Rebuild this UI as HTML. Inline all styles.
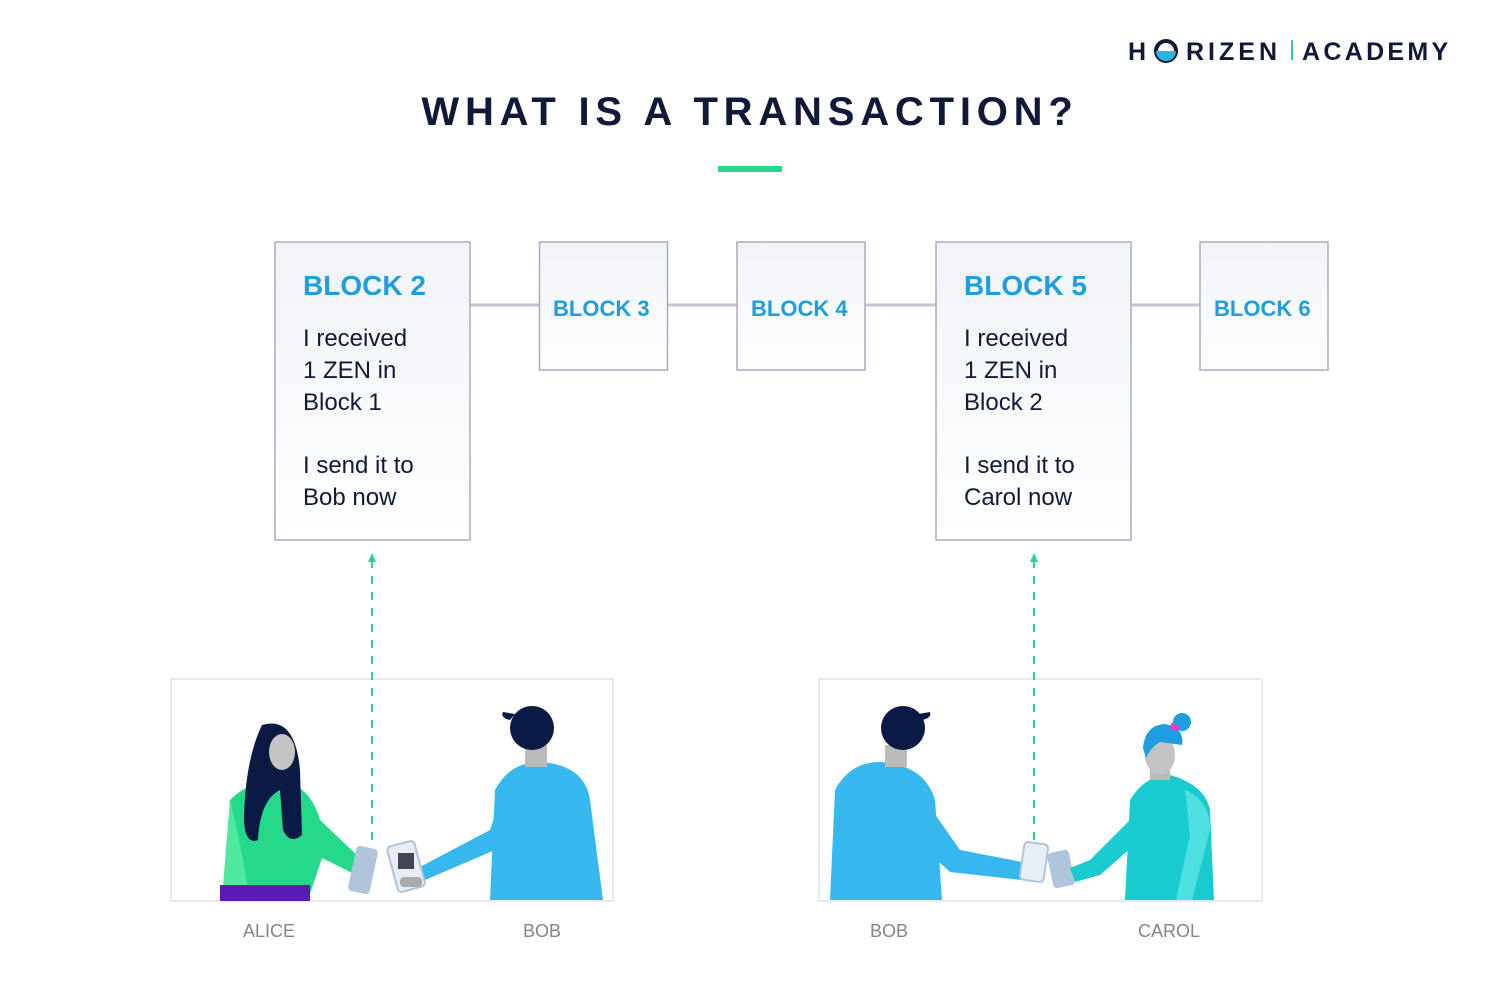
<!DOCTYPE html>
<html><head><meta charset="utf-8"><style>
body{margin:0;background:#fff;width:1500px;height:1001px;overflow:hidden;font-family:"Liberation Sans",sans-serif}
</style></head><body>
<svg width="1500" height="1001" viewBox="0 0 1500 1001" xmlns="http://www.w3.org/2000/svg">
<defs>
<linearGradient id="g" x1="0" y1="0" x2="0" y2="1"><stop offset="0" stop-color="#f1f3f8"/><stop offset="1" stop-color="#ffffff"/></linearGradient>
</defs>
<!-- logo -->
<text x="1128" y="60" font-size="25" font-weight="bold" fill="#0f1a3a" letter-spacing="4">H</text>
<circle cx="1166" cy="51" r="10" fill="none" stroke="#0f1a3a" stroke-width="4"/>
<path d="M1156 51 a10 10 0 0 0 20 0z" fill="#2ab5e0"/>
<text x="1186" y="60" font-size="25" font-weight="bold" fill="#0f1a3a" letter-spacing="4">RIZEN</text>
<rect x="1291" y="40" width="2" height="20" fill="#26d98a"/>
<text x="1302" y="60" font-size="25" font-weight="bold" fill="#0f1a3a" letter-spacing="3.3">ACADEMY</text>
<!-- title -->
<text x="750" y="125" font-size="40" font-weight="bold" fill="#10193a" text-anchor="middle" letter-spacing="5.8">WHAT IS A TRANSACTION?</text>
<rect x="718" y="166" width="64" height="6" fill="#26d98a"/>
<!-- connectors -->
<line x1="470" y1="305" x2="1200" y2="305" stroke="#c3c5d3" stroke-width="3"/>
<!-- blocks -->
<g stroke="#a9acbf" stroke-width="1.5" fill="url(#g)">
<rect x="275" y="242" width="195" height="298"/>
<rect x="539.5" y="242" width="128" height="128"/>
<rect x="737" y="242" width="128" height="128"/>
<rect x="936" y="242" width="195" height="298"/>
<rect x="1200" y="242" width="128" height="128"/>
</g>
<g font-weight="bold" fill="#1e9de0">
<text x="303" y="295" font-size="28">BLOCK 2</text>
<text x="553" y="316" font-size="22">BLOCK 3</text>
<text x="751" y="316" font-size="22">BLOCK 4</text>
<text x="964" y="295" font-size="28">BLOCK 5</text>
<text x="1214" y="316" font-size="22">BLOCK 6</text>
</g>
<g font-size="24" fill="#10193a">
<text x="303" y="346">I received</text><text x="303" y="378">1 ZEN in</text><text x="303" y="410">Block 1</text>
<text x="303" y="473">I send it to</text><text x="303" y="505">Bob now</text>
<text x="964" y="346">I received</text><text x="964" y="378">1 ZEN in</text><text x="964" y="410">Block 2</text>
<text x="964" y="473">I send it to</text><text x="964" y="505">Carol now</text>
</g>
<!-- panels -->
<rect x="171" y="679" width="442" height="222" fill="#fff" stroke="#e6e9ee" stroke-width="2"/>
<rect x="819" y="679" width="443" height="222" fill="#fff" stroke="#e6e9ee" stroke-width="2"/>
<!-- Alice -->
<path d="M222 900 L230 800 Q250 780 280 780 Q310 785 320 820 L360 858 L356 875 L322 858 L308 900Z" fill="#26d98a"/>
<path d="M222 900 L230 800 Q238 830 250 900Z" fill="#4ee89e"/>
<rect x="220" y="885" width="90" height="16" fill="#5a1bb5"/>
<path d="M262 725 Q295 715 300 770 L302 835 Q290 845 283 830 L280 790 Q260 800 258 840 Q245 845 244 820 Q245 760 262 725Z" fill="#0b1a45"/>
<ellipse cx="282" cy="752" rx="13" ry="18" fill="#c4c4c4"/>
<rect x="352" y="847" width="22" height="46" rx="4" fill="#b0c4dc" transform="rotate(12 363 870)"/>
<!-- Bob left -->
<path d="M490 900 L495 790 Q510 762 540 762 Q585 765 590 800 L603 900Z" fill="#36b8ee"/>
<path d="M500 800 L495 850 L425 880 L418 868 L490 830Z" fill="#36b8ee"/>
<rect x="525" y="745" width="22" height="22" fill="#bbb"/>
<circle cx="532" cy="728" r="22" fill="#0b1a45"/>
<path d="M510 720 Q500 718 503 712 L515 714Z" fill="#0b1a45"/>
<rect x="392" y="843" width="28" height="47" rx="4" fill="#e8eef6" stroke="#b0c4dc" stroke-width="2" transform="rotate(-15 406 866)"/>
<rect x="398" y="853" width="16" height="16" fill="#445"/>
<rect x="400" y="877" width="22" height="10" rx="4" fill="#aaa"/>
<!-- Bob right -->
<path d="M830 900 L835 790 Q850 762 880 762 Q925 765 935 800 L942 900Z" fill="#36b8ee"/>
<path d="M925 800 L960 850 L1022 862 L1022 880 L950 872 L915 840Z" fill="#36b8ee"/>
<rect x="885" y="745" width="22" height="22" fill="#bbb"/>
<circle cx="903" cy="728" r="22" fill="#0b1a45"/>
<path d="M922 720 Q932 718 930 712 L918 714Z" fill="#0b1a45"/>
<rect x="1022" y="843" width="24" height="38" rx="4" fill="#e8eef6" stroke="#b0c4dc" stroke-width="2" transform="rotate(8 1034 862)"/>
<rect x="1050" y="851" width="22" height="36" rx="4" fill="#b0c4dc" transform="rotate(-12 1061 869)"/>
<!-- Carol -->
<path d="M1125 900 L1130 800 Q1145 775 1170 775 Q1205 785 1210 810 L1214 900Z" fill="#19cbcf"/>
<path d="M1185 790 Q1210 800 1210 830 L1192 900 L1176 900 L1190 835Z" fill="#4ee0e0"/>
<path d="M1130 820 L1090 860 L1070 868 L1075 882 L1100 875 L1140 840Z" fill="#19cbcf"/>
<rect x="1150" y="755" width="20" height="25" fill="#bbb"/>
<ellipse cx="1160" cy="755" rx="15" ry="20" fill="#c4c4c4"/>
<path d="M1143 748 Q1145 725 1165 724 Q1185 728 1182 745 L1160 742 Q1150 748 1146 758Z" fill="#1e9de0"/>
<circle cx="1182" cy="722" r="9" fill="#1e9de0"/>
<rect x="1170" y="724" width="9" height="6" fill="#e040c0" transform="rotate(30 1174 727)"/>
<!-- dashed arrows -->
<g stroke="#26d98a" stroke-width="2" stroke-dasharray="8,8" fill="none">
<line x1="372" y1="560" x2="372" y2="840"/>
<line x1="1034" y1="560" x2="1034" y2="840"/>
</g>
<path d="M368 562 L372 553 L376 562Z M1030 562 L1034 553 L1038 562Z" fill="#26d98a"/>
<!-- labels -->
<g font-size="18" fill="#80848f" text-anchor="middle">
<text x="269" y="937">ALICE</text><text x="542" y="937">BOB</text>
<text x="889" y="937">BOB</text><text x="1169" y="937">CAROL</text>
</g>
</svg>
</body></html>
